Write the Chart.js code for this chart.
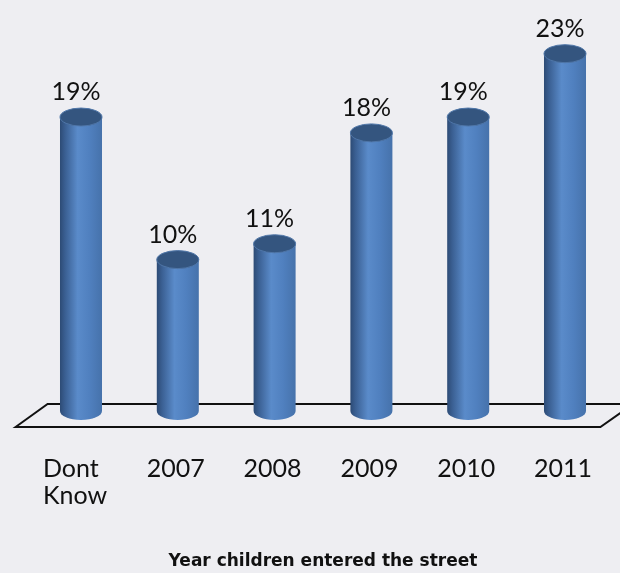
<!DOCTYPE html>
<html>
<head>
<meta charset="utf-8">
<script src="https://cdn.jsdelivr.net/npm/chart.js@4.4.1/dist/chart.umd.min.js"></script>
<style>
  html, body { margin: 0; padding: 0; background: #eeeef2; }
  #wrap { width: 620px; height: 573px; }
</style>
</head>
<body>
<div id="wrap"><canvas id="yearChart"></canvas></div>
<script>
// categories (one entry per line of the axis label) and share of children
const categories = [['Dont', 'Know'], ['2007'], ['2008'], ['2009'], ['2010'], ['2011']];
const shares = [19, 10, 11, 18, 19, 23];
const axisTitle = 'Year children entered the street';

const BG = '#eeeef2';
const LABEL_FONT = '25px Lato, "DejaVu Sans", sans-serif';

// light grey page behind everything
const background = {
    id: 'background',
    beforeDraw(chart) {
        const ctx = chart.ctx;
        ctx.save();
        ctx.fillStyle = BG;
        ctx.fillRect(0, 0, chart.width, chart.height);
        ctx.restore();
    }
};

// the slanted floor the cylinders stand on
const floor = {
    id: 'floor',
    beforeDatasetsDraw(chart) {
        const ctx = chart.ctx;
        const xs = chart.scales.x;
        const base = chart.scales.y.getPixelForValue(0);
        const back = base - 14, front = base + 9;
        ctx.save();
        ctx.beginPath();
        ctx.moveTo(xs.left - 17, front);
        ctx.lineTo(xs.left + 15, back);
        ctx.lineTo(xs.right + 20, back);
        ctx.lineTo(xs.right - 13, front);
        ctx.closePath();
        ctx.strokeStyle = '#111';
        ctx.lineWidth = 2;
        ctx.stroke();
        ctx.restore();
    }
};

// turn each bar into a shaded cylinder
const cylinders = {
    id: 'cylinders',
    afterDatasetsDraw(chart) {
        const ctx = chart.ctx;
        const meta = chart.getDatasetMeta(0);
        ctx.save();
        meta.data.forEach(function (bar, i) {
            const { x, y, base, width } = bar.getProps(['x', 'y', 'base', 'width'], true);
            const rx = width / 2, ry = 9;
            const bottom = base - 7;
            const left = x - rx, right = x + rx;

            const grad = ctx.createLinearGradient(left, 0, right, 0);
            grad.addColorStop(0, '#2d4b75');
            grad.addColorStop(0.12, '#3a5f92');
            grad.addColorStop(0.42, '#5a8bca');
            grad.addColorStop(0.7, '#5080bf');
            grad.addColorStop(1, '#4672ab');

            ctx.beginPath();
            ctx.moveTo(left, y);
            ctx.lineTo(left, bottom);
            ctx.ellipse(x, bottom, rx, ry, 0, Math.PI, 0, true);
            ctx.lineTo(right, y);
            ctx.closePath();
            ctx.fillStyle = grad;
            ctx.fill();

            ctx.beginPath();
            ctx.ellipse(x, y, rx, ry, 0, 0, Math.PI * 2);
            ctx.fillStyle = '#34557f';
            ctx.fill();
            ctx.strokeStyle = '#4f76a8';
            ctx.lineWidth = 1;
            ctx.stroke();

            // percentage above the cap
            ctx.fillStyle = '#111';
            ctx.font = LABEL_FONT;
            ctx.textAlign = 'center';
            ctx.textBaseline = 'alphabetic';
            ctx.fillText(shares[i] + '%', x - 5, y - ry - 8);
        });
        ctx.restore();
    }
};

// category names under the floor, lines aligned on the left
const categoryLabels = {
    id: 'categoryLabels',
    afterDraw(chart) {
        const ctx = chart.ctx;
        const xs = chart.scales.x;
        const base = chart.scales.y.getPixelForValue(0);
        ctx.save();
        ctx.font = LABEL_FONT;
        ctx.fillStyle = '#111';
        ctx.textAlign = 'left';
        ctx.textBaseline = 'alphabetic';
        categories.forEach(function (lines, i) {
            const cx = xs.getPixelForValue(i);
            const w = Math.max.apply(null, lines.map(function (l) { return ctx.measureText(l).width; }));
            const shift = lines.length > 1 ? 6 : 2;
            lines.forEach(function (line, j) {
                ctx.fillText(line, cx - w / 2 - shift, base + 59 + j * 27);
            });
        });
        ctx.restore();
    }
};

new Chart(document.getElementById('yearChart'), {
    type: 'bar',
    data: {
        labels: categories.map(function (l) { return l.join(' '); }),
        datasets: [{
            data: shares,
            backgroundColor: 'rgba(0,0,0,0)',
            borderWidth: 0,
            categoryPercentage: 1,
            barPercentage: 0.434
        }]
    },
    options: {
        responsive: true,
        maintainAspectRatio: false,
        animation: false,
        layout: { padding: { left: 32.6, right: 6.6, top: 22, bottom: 0 } },
        scales: {
            x: { display: false },
            y: { display: false, min: 0, max: 25 }
        },
        plugins: {
            legend: { display: false },
            tooltip: { enabled: false },
            title: {
                display: true,
                position: 'bottom',
                text: axisTitle,
                color: '#111',
                font: { family: '"DejaVu Sans", sans-serif', size: 17, weight: 'bold' },
                padding: { top: 133.6, bottom: 1 }
            }
        }
    },
    plugins: [background, floor, cylinders, categoryLabels]
});
</script>
</body>
</html>
